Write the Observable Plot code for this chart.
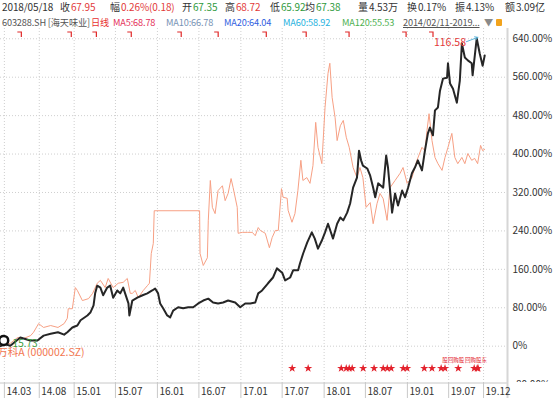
<!DOCTYPE html>
<html><head><meta charset="utf-8">
<script src="https://cdn.jsdelivr.net/npm/d3@7"></script>
<script src="https://cdn.jsdelivr.net/npm/@observablehq/plot@0.6"></script>
<style>
body{margin:0;background:#fff;font-family:"Noto Sans CJK SC","Noto Sans",sans-serif;}
#wrap{position:relative;width:554px;height:398px;overflow:hidden;background:#fff;}
.hd{position:absolute;white-space:nowrap;}
.l1{top:0;font-size:10px;line-height:14px;color:#333;letter-spacing:-0.1px;}
.l2{top:16px;font-size:9.2px;line-height:13px;letter-spacing:-0.15px;}
#main{position:absolute;left:0;top:28px;}
#strip{position:absolute;left:0;top:382px;}
</style></head><body><div id="wrap"><div id="main"></div><div id="strip"></div></div>
<script>
// ---------- data ----------
const htDates = ["2014-02-12","2014-03-05","2014-03-27","2014-05-10","2014-06-22","2014-07-24","2014-08-20","2014-09-20","2014-10-22","2014-11-18","2014-12-02","2014-12-24","2015-01-15","2015-01-29","2015-02-28","2015-03-13","2015-03-27","2015-04-03","2015-04-12","2015-04-26","2015-05-08","2015-05-26","2015-06-08","2015-06-21","2015-07-09","2015-07-22","2015-08-04","2015-08-27","2015-08-31","2015-09-13","2015-10-05","2015-10-28","2015-11-18","2015-12-09","2015-12-22","2016-01-04","2016-01-13","2016-01-26","2016-02-13","2016-02-26","2016-03-10","2016-04-01","2016-04-23","2016-05-15","2016-06-06","2016-06-28","2016-07-20","2016-08-11","2016-09-01","2016-09-23","2016-10-15","2016-11-06","2016-12-07","2016-12-29","2017-01-20","2017-02-11","2017-03-05","2017-03-18","2017-04-04","2017-04-30","2017-05-22","2017-06-08","2017-07-01","2017-07-14","2017-08-05","2017-08-18","2017-09-09","2017-09-17","2017-10-01","2017-10-19","2017-11-08","2017-11-21","2017-12-05","2017-12-22","2018-01-05","2018-01-18","2018-02-09","2018-02-27","2018-03-13","2018-03-26","2018-04-12","2018-04-25","2018-05-08","2018-05-25","2018-06-03","2018-06-12","2018-06-20","2018-07-09","2018-07-22","2018-08-04","2018-08-13","2018-08-26","2018-09-17","2018-09-30","2018-10-08","2018-10-26","2018-11-08","2018-11-21","2018-12-09","2018-12-22","2019-01-04","2019-01-21","2019-02-03","2019-02-16","2019-03-06","2019-03-19","2019-04-01","2019-04-10","2019-04-23","2019-05-02","2019-05-15","2019-05-24","2019-06-06","2019-06-24","2019-06-28","2019-07-07","2019-07-20","2019-08-06","2019-08-19","2019-08-28","2019-09-10","2019-09-23","2019-10-10","2019-10-14","2019-11-01","2019-11-14","2019-11-27","2019-12-06"];
const htPct = [0,4,1,18,12,12,22,26,29,24,29,39,43,54,64,70,85,110,126,122,106,122,126,101,116,110,122,89,64,95,101,106,110,116,120,110,89,79,64,60,74,81,79,81,81,89,95,99,91,89,91,95,91,81,89,89,91,110,116,131,143,162,153,137,143,158,158,172,193,216,237,224,203,220,237,255,224,255,268,262,278,297,330,351,407,387,376,370,355,330,310,339,330,397,372,278,318,293,324,310,330,360,372,387,366,407,443,455,439,491,497,532,557,559,589,547,536,507,553,630,601,595,589,564,641,610,584,605];

const wkDates = ["2014-02-12","2014-03-27","2014-04-28","2014-05-24","2014-06-24","2014-07-07","2014-07-29","2014-08-20","2014-09-20","2014-10-22","2014-11-18","2014-12-02","2014-12-06","2014-12-24","2015-01-06","2015-01-15","2015-02-06","2015-03-05","2015-03-23","2015-04-12","2015-04-26","2015-05-17","2015-05-30","2015-06-21","2015-07-13","2015-08-04","2015-08-22","2015-09-04","2015-09-13","2015-09-26","2015-10-09","2015-10-31","2015-11-18","2015-11-27","2015-12-05","2015-12-14","2015-12-18","2016-07-04","2016-07-06","2016-07-20","2016-08-07","2016-08-11","2016-08-20","2016-08-29","2016-09-10","2016-09-23","2016-10-12","2016-10-24","2016-11-06","2016-11-19","2016-11-28","2016-12-16","2016-12-20","2017-01-07","2017-01-29","2017-02-20","2017-03-05","2017-03-18","2017-03-27","2017-04-18","2017-05-06","2017-05-18","2017-06-01","2017-06-14","2017-06-28","2017-07-05","2017-07-23","2017-07-27","2017-08-13","2017-08-26","2017-09-08","2017-09-21","2017-09-30","2017-10-17","2017-10-31","2017-11-13","2017-11-25","2017-12-05","2017-12-22","2018-01-05","2018-01-18","2018-01-26","2018-02-05","2018-02-18","2018-02-27","2018-03-13","2018-03-26","2018-04-08","2018-04-21","2018-05-08","2018-05-25","2018-06-07","2018-06-20","2018-07-04","2018-07-22","2018-08-04","2018-08-21","2018-09-03","2018-09-17","2018-10-04","2018-10-17","2018-11-08","2018-11-30","2018-12-13","2018-12-31","2019-01-21","2019-02-12","2019-03-06","2019-03-19","2019-03-28","2019-04-06","2019-04-19","2019-05-02","2019-05-15","2019-06-02","2019-06-15","2019-06-28","2019-07-15","2019-07-28","2019-08-10","2019-08-28","2019-09-10","2019-09-23","2019-10-10","2019-10-23","2019-11-05","2019-11-18","2019-11-27","2019-12-06"];
const wkPct = [1,6,18,16,22,29,47,39,43,39,47,58,78,78,122,116,95,99,110,131,137,122,141,122,131,133,141,110,110,116,101,116,126,131,193,214,282,282,193,168,184,261,345,289,276,324,334,303,318,349,330,289,235,237,237,237,230,247,241,235,205,226,241,241,328,310,308,283,258,276,324,387,345,351,339,376,466,414,380,497,568,589,518,476,428,459,470,435,414,372,351,372,351,289,299,255,297,318,307,262,330,345,360,372,339,351,387,414,407,449,484,428,393,380,366,393,414,443,393,380,393,380,401,387,391,380,418,407,410];

const xTickDates = ["2014-03-01","2014-08-01","2015-01-01","2015-07-01","2016-01-01","2016-07-01","2017-01-01","2017-07-01","2018-01-01","2018-07-01","2019-01-01","2019-07-01","2019-12-01"];
const xTickLabels = ["14.03","14.08","15.01","15.07","16.01","16.07","17.01","17.07","18.01","18.07","19.01","19.07","19.12"];
const yTicks = [-80,0,80,160,240,320,400,480,560,640];

const infoDates = ["2014-05-10","2014-12-15","2015-04-04","2015-09-04","2016-04-10","2016-09-19","2017-04-18","2017-10-10","2018-04-16","2018-12-22","2019-04-19"];
const starDates = ["2017-08-14","2017-10-23","2018-03-17","2018-04-08","2018-04-21","2018-05-04","2018-06-21","2018-08-08","2018-09-17","2018-10-05","2018-10-22","2018-12-14","2018-12-31","2019-03-16","2019-04-19","2019-05-29","2019-06-15","2019-08-12","2019-10-21","2019-11-03","2019-11-07"];
const eventLabelDates = ["2019-07-21","2019-10-29"];
const eventLabelTexts = ["股回购股","回购股东"];

const startRing = {date:"2014-02-26", pct:12};
const startPrice = {date:"2014-04-06", pct:6, text:"15.73"};
const compareName = {date:"2014-01-29", pct:-13, text:"万科A (000002.SZ)"};
const maxLabel = {date:"2019-09-15", pct:632, text:"116.58"};
const maxArrow = {d1:"2019-09-17", p1:634, d2:"2019-11-06", p2:643};
const infoRowPct = 650, starRowPct = -46, eventLabelPct = -30;

const line1Labels = ["2018/05/18","收","幅","开","高","低","均","量","换","振","额"];
const line1Values = ["","67.95","0.26%(0.18)","67.35","68.72","65.92","67.38","4.53万","0.17%","4.13%","3.09亿"];
const line2Texts = ["603288.SH [海天味业]","日线","MA5:68.78","MA10:66.78","MA20:64.04","MA60:58.92","MA120:55.53","2014/02/11-2019...","▼"];

// ---------- header ----------
const wrap = document.getElementById("wrap");
const RED="#e23a3a", GREEN="#2f9a3c", DARK="#333";
const l1Pos=[2,60,110,182,225,270,305,358,407,455,505];
const l1Col=[DARK,RED,RED,GREEN,RED,GREEN,GREEN,DARK,DARK,DARK,DARK];
line1Labels.forEach((lab,i)=>{
  const s=document.createElement("div");
  s.className="hd l1"; s.style.left=l1Pos[i]+"px";
  s.innerHTML = `<span>${lab}</span>` + (line1Values[i]?`<span style="color:${l1Col[i]};margin-left:1px">${line1Values[i]}</span>`:"");
  wrap.appendChild(s);
});
const l2Pos=[2,91,113,166,224,283,342,403,484];
const l2Col=["#555","#e8312f","#e4305a","#7792b4","#2f5ee0","#1fb2de","#4db04f","#555","#8a8a8a"];
line2Texts.forEach((t,i)=>{
  const s=document.createElement("div");
  s.className="hd l2"; s.style.left=l2Pos[i]+"px"; s.style.color=l2Col[i];
  if(i===7) s.style.textDecoration="underline";
  s.textContent=t; wrap.appendChild(s);
});
const lock=document.createElement("div");
lock.style.cssText="position:absolute;left:496px;top:19px;width:6px;height:7px;background:#f2a31c;border-radius:1px;";
wrap.appendChild(lock);

// ---------- chart ----------
const parse = d3.utcParse("%Y-%m-%d");
const ht = htDates.map((d,i)=>({date:parse(d), pct:htPct[i]}));
const wk = wkDates.map((d,i)=>({date:parse(d), pct:wkPct[i]}));
const xt = xTickDates.map(parse);
const x0 = parse("2014-02-12"), x1 = parse("2020-03-15");
const FONT = '"Noto Sans CJK SC","Noto Sans",sans-serif';
const flag = {draw(ctx){ctx.moveTo(-3,-2);ctx.lineTo(1,-2);ctx.lineTo(1,3);}};

const main = Plot.plot({
  width:554, height:354, marginTop:0, marginBottom:0, marginLeft:0, marginRight:47,
  style:{fontFamily:FONT, fontSize:"10px", color:"#333", background:"#fff", overflow:"hidden"},
  x:{type:"utc", domain:[x0,x1], axis:null},
  y:{domain:[-75.6,661.4], axis:null},
  marks:[
    Plot.ruleY(yTicks,{stroke:"#cfcfcf", strokeDasharray:"1,2"}),
    Plot.ruleX(xt,{stroke:"#cfcfcf", strokeDasharray:"1,2"}),
    Plot.ruleX([x1],{stroke:"#d6d6d6", strokeWidth:2}),
    Plot.axisY(yTicks,{anchor:"right", tickSize:0, tickPadding:5, tickFormat:d=>d===0?"0%":d.toFixed(2)+"%", fill:"#333", label:null}),
    Plot.line(wk,{x:"date", y:"pct", stroke:"#f7a084", strokeWidth:1}),
    Plot.line(ht,{x:"date", y:"pct", stroke:"#262626", strokeWidth:2}),
    Plot.dot([startRing],{x:d=>parse(d.date), y:"pct", r:4.5, stroke:"#111", strokeWidth:2.5, fill:"#fff"}),
    Plot.text([startPrice],{x:d=>parse(d.date), y:"pct", text:"text", textAnchor:"start", fill:"#3a9a3a", fontSize:10}),
    Plot.text([compareName],{x:d=>parse(d.date), y:"pct", text:"text", textAnchor:"start", fill:"#f2774f", fontSize:10.5}),
    Plot.text([maxLabel],{x:d=>parse(d.date), y:"pct", text:"text", textAnchor:"end", fill:"#e23a3a", fontSize:10.5}),
    Plot.arrow([maxArrow],{x1:d=>parse(d.d1), y1:"p1", x2:d=>parse(d.d2), y2:"p2", stroke:"#5db6dc", strokeWidth:1, headLength:5}),
    Plot.dot(infoDates,{x:d=>parse(d), y:()=>infoRowPct, symbol:flag, stroke:"#e02828", strokeWidth:1.2, fill:"none"}),
    Plot.dot(starDates,{x:d=>parse(d), y:()=>starRowPct, symbol:"star", r:2.6, fill:"#e3222c", stroke:"none"}),
    Plot.text(eventLabelDates,{x:d=>parse(d), y:()=>eventLabelPct, text:(d,i)=>eventLabelTexts[i], fill:"#e3222c", fontSize:5.5})
  ]
});
document.getElementById("main").appendChild(main);

const strip = Plot.plot({
  width:554, height:16, marginTop:0, marginBottom:0, marginLeft:0, marginRight:47,
  style:{fontFamily:FONT, fontSize:"10px", color:"#333", background:"#fff"},
  x:{type:"utc", domain:[x0,x1], axis:null},
  y:{domain:[0,1], range:[0.5,16], axis:null},
  marks:[
    Plot.ruleY([0],{stroke:"#c8c8c8"}),
    Plot.ruleX(xt,{stroke:"#c8c8c8"}),
    Plot.ruleX([x1],{stroke:"#d6d6d6", strokeWidth:2}),
    Plot.text(xt,{x:d=>d, frameAnchor:"middle", text:(d,i)=>xTickLabels[i], textAnchor:"start", dx:2, dy:1, fill:"#333"})
  ]
});
document.getElementById("strip").appendChild(strip);
</script></body></html>
